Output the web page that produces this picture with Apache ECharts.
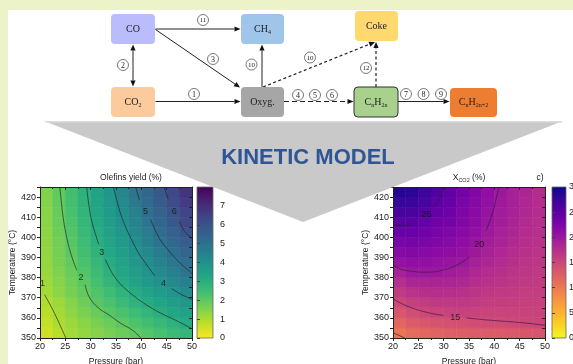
<!DOCTYPE html>
<html>
<head>
<meta charset="utf-8">
<script src="https://cdn.jsdelivr.net/npm/echarts@6/dist/echarts.min.js"></script>
<style>
  html, body { margin: 0; padding: 0; background: #fff; }
  #chart { width: 573px; height: 364px; }
</style>
</head>
<body>
<div id="chart"></div>
<script>
// ---- Data ---------------------------------------------------------------
// Cell centres of the response-surface grids (pressure in bar, temperature in °C)
const pressureCenters = [21.25, 23.75, 26.25, 28.75, 31.25, 33.75, 36.25, 38.75, 41.25, 43.75, 46.25, 48.75];
const temperatureCenters = [352.5, 357.5, 362.5, 367.5, 372.5, 377.5, 382.5, 387.5, 392.5, 397.5, 402.5, 407.5, 412.5, 417.5, 422.5];

// Olefins yield (%), one row per temperature, one column per pressure
const olefinsYield = [
  [0.60, 0.88, 1.11, 1.29, 1.46, 1.64, 1.81, 1.99, 2.18, 2.37, 2.56, 2.75],
  [0.72, 1.00, 1.21, 1.42, 1.63, 1.84, 2.05, 2.26, 2.47, 2.68, 2.89, 3.09],
  [0.85, 1.10, 1.35, 1.60, 1.85, 2.09, 2.32, 2.55, 2.78, 3.01, 3.22, 3.43],
  [0.95, 1.20, 1.49, 1.78, 2.07, 2.32, 2.58, 2.84, 3.09, 3.32, 3.56, 3.79],
  [1.10, 1.40, 1.67, 1.94, 2.23, 2.52, 2.82, 3.10, 3.36, 3.63, 3.89, 4.15],
  [1.17, 1.45, 1.74, 2.04, 2.39, 2.74, 3.08, 3.37, 3.66, 3.95, 4.23, 4.52],
  [1.24, 1.56, 1.87, 2.21, 2.57, 2.93, 3.26, 3.57, 3.88, 4.20, 4.53, 4.86],
  [1.29, 1.63, 1.95, 2.33, 2.72, 3.09, 3.41, 3.74, 4.08, 4.44, 4.79, 5.13],
  [1.33, 1.68, 2.04, 2.44, 2.85, 3.21, 3.55, 3.90, 4.28, 4.69, 5.08, 5.42],
  [1.36, 1.72, 2.13, 2.54, 2.96, 3.33, 3.70, 4.08, 4.51, 4.94, 5.31, 5.67],
  [1.39, 1.78, 2.20, 2.63, 3.05, 3.44, 3.82, 4.25, 4.70, 5.14, 5.54, 5.94],
  [1.42, 1.83, 2.28, 2.72, 3.15, 3.56, 3.96, 4.42, 4.90, 5.34, 5.78, 6.22],
  [1.45, 1.88, 2.34, 2.79, 3.23, 3.65, 4.09, 4.59, 5.08, 5.51, 5.94, 6.39],
  [1.48, 1.92, 2.38, 2.84, 3.29, 3.74, 4.22, 4.76, 5.24, 5.68, 6.13, 6.61],
  [1.50, 1.95, 2.42, 2.90, 3.36, 3.82, 4.34, 4.90, 5.37, 5.81, 6.29, 6.79]
];

// CO2 conversion (%), same layout
const co2Conversion = [
  [10.4, 11.3, 11.7, 12.1, 12.4, 12.6, 12.8, 12.9, 13.0, 13.2, 13.4, 13.6],
  [11.9, 12.8, 13.3, 13.7, 14.0, 14.2, 14.4, 14.5, 14.6, 14.8, 15.05, 15.2],
  [13.4, 14.3, 14.85, 15.2, 15.4, 15.5, 15.45, 15.35, 15.3, 15.3, 15.4, 15.5],
  [14.85, 15.7, 16.1, 16.35, 16.4, 16.4, 16.2, 16.0, 15.9, 15.8, 15.7, 15.7],
  [16.25, 17.1, 17.4, 17.5, 17.5, 17.3, 16.9, 16.6, 16.4, 16.2, 16.0, 16.0],
  [17.6, 18.5, 18.65, 18.65, 18.5, 18.3, 17.6, 17.2, 16.9, 16.6, 16.4, 16.2],
  [19.0, 19.85, 19.9, 19.8, 19.5, 19.1, 18.3, 17.8, 17.4, 17.0, 16.7, 16.5],
  [20.46, 20.9, 20.8, 20.6, 20.3, 19.9, 19.0, 18.4, 17.9, 17.4, 17.0, 16.8],
  [21.7, 21.95, 21.7, 21.35, 21.0, 20.5, 19.8, 18.9, 18.3, 17.8, 17.3, 17.0],
  [22.9, 23.0, 22.6, 22.1, 21.7, 21.0, 20.3, 19.3, 18.7, 18.1, 17.6, 17.2],
  [24.1, 24.0, 23.5, 22.8, 22.4, 21.6, 20.8, 19.7, 19.0, 18.4, 17.8, 17.4],
  [25.4, 25.1, 24.45, 23.55, 23.1, 22.1, 21.2, 20.1, 19.3, 18.6, 18.0, 17.6],
  [26.5, 26.3, 25.6, 24.3, 23.7, 22.5, 21.5, 20.4, 19.5, 18.8, 18.2, 17.7],
  [27.6, 27.4, 26.4, 25.0, 24.2, 22.9, 21.8, 20.7, 19.7, 18.9, 18.3, 17.8],
  [28.6, 28.4, 27.2, 25.7, 24.6, 23.2, 22.1, 20.9, 19.8, 19.0, 18.4, 17.9]
];

// Iso-lines of the olefins yield: segments of [pressure, temperature] (broken where the level is written)
const olefinsIso1 = [[[20.9, 371.5], [22.0, 366.5], [23.2, 360.5], [24.3, 354.5], [25.1, 350]]];
const olefinsIso2 = [[[23.9, 425], [24.2, 418], [24.5, 411], [25.1, 402], [25.8, 394.4], [26.6, 388], [27.3, 383.5]],
                     [[28.9, 376.5], [29.7, 370.4], [31.5, 365], [33.7, 361.3], [36.0, 357.2], [38.3, 353.8], [39.9, 350]]];
const olefinsIso3 = [[[29.2, 425], [29.6, 417], [30.1, 409.3], [30.9, 402], [31.6, 396.5]],
                     [[32.9, 389], [34.3, 382], [35.8, 377], [37.6, 372.8], [39.8, 368.5], [42.2, 364.6], [44.5, 361.5], [46.8, 358.8], [50, 354.6]]];
const olefinsIso4 = [[[34.5, 425], [35.2, 418], [36.0, 411], [37.1, 404], [38.3, 397.7], [39.5, 392], [40.9, 386.9], [42.6, 381]],
                     [[46.0, 374.5], [48.0, 371.5], [50, 369.2]]];
const olefinsIso5 = [[[38.9, 425], [39.6, 418.5]],
                     [[41.8, 409], [43.6, 399.3], [45.2, 394], [46.8, 389.4], [48.4, 385.5], [50, 382]]];
const olefinsIso6 = [[[44.5, 425], [45.3, 419]],
                     [[47.5, 408], [48.2, 404.3], [49.1, 401.5], [50, 399.3]]];
const olefinsIsoLabels = [['1', 20.5, 377], ['2', 28.1, 380], ['3', 32.2, 392.7], ['4', 44.4, 377], ['5', 40.8, 412.9], ['6', 46.5, 412.9]];

// Iso-lines of the CO2 conversion
const co2Iso10 = [[[20, 352.6], [21.2, 351.3], [22.3, 350]]];
const co2Iso15 = [[[20, 369.5], [21.8, 367], [23.8, 364.9], [25.8, 363.3], [27.8, 362.1], [30.0, 361.2]],
                  [[34.5, 360], [37.1, 359.3], [40.4, 358.6], [43.7, 358], [47.0, 357.2], [50, 356.3]]];
const co2Iso20 = [[[20, 386.1], [21.8, 384], [23.8, 383.1], [25.8, 382.7], [27.8, 382.8], [29.8, 383.7], [31.8, 385.3], [33.5, 387.5], [35.1, 390.2]],
                  [[38.4, 403.5], [39.1, 408], [39.7, 412.6], [40.3, 418.5], [40.9, 425]]];
const co2Iso25 = [[[20, 406], [22.5, 406], [24.2, 407.2]],
                  [[27.6, 414], [28.8, 417.5], [29.7, 421.5], [30.5, 425]]];
const co2IsoLabels = [['25', 26.6, 411.4], ['20', 37.0, 396.4], ['15', 32.3, 360.4]];

// Colour scales (low -> high)
const viridisLowToHigh = ['#fde725', '#bddf26', '#7ad151', '#44bf70', '#22a884', '#21918c', '#2a788e', '#355f8d', '#414487', '#482475', '#440154'];
const plasmaLowToHigh = ['#f0f921', '#fcce25', '#fca636', '#f2844b', '#e16462', '#cc4778', '#b12a90', '#8f0da4', '#6a00a8', '#41049d', '#0d0887'];
const olefinsRange = [0, 8];
const co2Range = [0, 30];

// Reaction network nodes and steps
const networkNodes = ['CO', 'CH4', 'Coke', 'CO2', 'Oxyg', 'CnH2n', 'CnH2n+2'];
const networkSteps = [
  ['CO', 'CH4', '11'], ['CO', 'Oxyg', '3'], ['CO', 'CO2', '2'], ['CO2', 'Oxyg', '1'],
  ['Oxyg', 'CH4', '10'], ['Oxyg', 'Coke', '10'], ['Oxyg', 'CnH2n', '4 5 6'],
  ['CnH2n', 'Coke', '12'], ['CnH2n', 'CnH2n+2', '7 8 9']
];

// ---- Drawing helpers -----------------------------------------------------
const SANS = 'Liberation Sans, Arial, sans-serif';
const SERIF = 'Liberation Serif, Times New Roman, serif';
const INK = '#222';

function gridCells(values) {
  const out = [];
  values.forEach((row, i) => row.forEach((v, j) => out.push([pressureCenters[j], temperatureCenters[i], v])));
  return out;
}

function renderCell(params, api) {
  const p = api.value(0), t = api.value(1);
  const a = api.coord([p - 1.25, t + 2.5]);
  const b = api.coord([p + 1.25, t - 2.5]);
  const c = api.visual('color');
  return {
    type: 'rect',
    shape: { x: a[0], y: a[1], width: b[0] - a[0], height: b[1] - a[1] },
    style: { fill: c, stroke: c, lineWidth: 0.6 }
  };
}

function colorbarRenderer(colors) {
  return function (params, api) {
    const lo = api.coord([0, api.value(0)]);
    const hi = api.coord([1, api.value(1)]);
    const stops = colors.map((c, i) => ({ offset: i / (colors.length - 1), color: c }));
    return {
      type: 'rect',
      shape: { x: lo[0], y: hi[1], width: hi[0] - lo[0], height: lo[1] - hi[1] },
      style: { fill: new echarts.graphic.LinearGradient(0, 1, 0, 0, stops), stroke: '#666', lineWidth: 0.8 }
    };
  };
}

function isoSeries(segments, axisIdx, color) {
  return segments.map(seg => ({
    type: 'line', xAxisIndex: axisIdx, yAxisIndex: axisIdx,
    data: seg, smooth: 0.4, showSymbol: false, symbol: 'none', silent: true, z: 4,
    lineStyle: { color: color, width: 0.9 }
  }));
}

function isoLabelSeries(labels, axisIdx) {
  return {
    type: 'scatter', xAxisIndex: axisIdx, yAxisIndex: axisIdx, z: 5, silent: true,
    symbolSize: 2, itemStyle: { color: 'rgba(0,0,0,0)' },
    data: labels.map(l => ({ name: l[0], value: [l[1], l[2]] })),
    label: { show: true, position: 'inside', formatter: '{b}', fontFamily: SANS, fontSize: 9, color: '#111' }
  };
}

const tickLabel = { fontFamily: SANS, fontSize: 9, color: INK };
const axisLineStyle = { show: true, onZero: false, lineStyle: { color: INK, width: 1 } };

function plotXAxes(gridIndex) {
  return [
    {
      gridIndex, type: 'value', min: 20, max: 50, interval: 5, position: 'bottom', z: 10,
      axisLine: axisLineStyle,
      axisTick: { show: true, length: 3, lineStyle: { color: INK } },
      minorTick: { show: true, splitNumber: 2, length: 2, lineStyle: { color: INK } },
      splitLine: { show: false },
      axisLabel: Object.assign({ margin: 4 }, tickLabel),
      name: 'Pressure (bar)', nameLocation: 'middle', nameGap: 19.5,
      nameTextStyle: { fontFamily: SANS, fontSize: 8.5, color: INK }
    },
    {
      gridIndex, type: 'value', min: 20, max: 50, interval: 5, position: 'top', z: 10,
      axisLine: axisLineStyle,
      axisTick: { show: true, inside: true, length: 3, lineStyle: { color: INK } },
      minorTick: { show: true, splitNumber: 2, length: 2, lineStyle: { color: INK } },
      splitLine: { show: false }, axisLabel: { show: false }
    }
  ];
}

function plotYAxes(gridIndex, nameGap) {
  return [
    {
      gridIndex, type: 'value', min: 350, max: 425, interval: 5, position: 'left', z: 10,
      axisLine: axisLineStyle,
      axisTick: { show: true, length: 3, lineStyle: { color: INK } },
      splitLine: { show: false },
      axisLabel: Object.assign({ margin: 4, formatter: v => (v % 10 === 0 && v < 425 ? String(v) : '') }, tickLabel),
      name: 'Temperature (°C)', nameLocation: 'middle', nameGap: nameGap,
      nameTextStyle: { fontFamily: SANS, fontSize: 8.5, color: INK }
    },
    {
      gridIndex, type: 'value', min: 350, max: 425, interval: 5, position: 'right', z: 10,
      axisLine: axisLineStyle,
      axisTick: { show: true, inside: true, length: 3, lineStyle: { color: INK } },
      splitLine: { show: false }, axisLabel: { show: false }
    }
  ];
}

function colorbarAxes(gridIndex, range, step, margin) {
  return {
    x: { gridIndex, type: 'value', min: 0, max: 1, show: false },
    y: {
      gridIndex, type: 'value', min: range[0], max: range[1], interval: step, position: 'right', z: 10,
      axisLine: { show: false },
      axisTick: { show: true, length: 3, lineStyle: { color: '#444' } },
      splitLine: { show: false },
      axisLabel: Object.assign({ margin: margin }, tickLabel)
    }
  };
}

// ---- Reaction network layout ---------------------------------------------
const nodeLayout = {
  'CO':      { x: 111, y: 14, w: 44, h: 30, fill: '#bbbcfb', label: 'CO' },
  'CH4':     { x: 241, y: 14, w: 43, h: 30, fill: '#9fc5ea', label: 'CH{s|4}' },
  'Coke':    { x: 355, y: 11, w: 43, h: 30, fill: '#ffd96e', label: 'Coke' },
  'CO2':     { x: 111, y: 87, w: 44, h: 30, fill: '#fbcb9d', label: 'CO{s|2}' },
  'Oxyg':    { x: 241, y: 87, w: 43, h: 30, fill: '#a6a6a6', label: 'Oxyg.' },
  'CnH2n':   { x: 354, y: 87, w: 44, h: 30, fill: '#a9d18e', label: 'C{s|n}H{s|2n}', stroke: '#333' },
  'CnH2n+2': { x: 450, y: 88, w: 47, h: 29, fill: '#ed7d31', label: 'C{s|n}H{s|2n+2}' }
};
const stepLayout = [
  { from: [155.5, 29], to: [240.5, 29], marks: [[203, 20]] },
  { from: [155.5, 29.5], to: [240, 87.5], marks: [[213, 59]] },
  { from: [133, 44.5], to: [133, 86.5], both: true, marks: [[123, 65]] },
  { from: [155.5, 101.5], to: [240.5, 101.5], marks: [[194, 94]] },
  { from: [262, 87], to: [262, 44.5], marks: [[251.5, 64.5]] },
  { from: [263, 87], to: [375, 42], dash: [3, 2.5], marks: [[310, 57.5]] },
  { from: [284, 101.5], to: [353.5, 101.5], dash: [5, 3], marks: [[298, 95], [315, 95], [332, 95]] },
  { from: [376, 87], to: [376, 42], dash: [3, 2.5], marks: [[366, 68]] },
  { from: [398, 101.5], to: [449.5, 101.5], marks: [[406, 94], [423.5, 94], [441, 94]] }
];

const subRich = {
  m: { fontFamily: SERIF, fontSize: 10, lineHeight: 12, fill: INK },
  s: { fontFamily: SERIF, fontSize: 6, lineHeight: 6, verticalAlign: 'bottom', fill: INK }
};

function nodeGraphic(name) {
  const b = nodeLayout[name];
  const text = b.label.replace(/(^|\})([^{}]+)(?=\{|$)/g, (m, pre, body) => pre + '{m|' + body + '}');
  return {
    type: 'group', z: 20, children: [
      { type: 'rect', shape: { x: b.x, y: b.y, width: b.w, height: b.h, r: 4 },
        style: { fill: b.fill, stroke: b.stroke || b.fill, lineWidth: b.stroke ? 1 : 0 } },
      { type: 'text', x: b.x + b.w / 2, y: b.y + b.h / 2,
        style: { text: text, rich: subRich, align: 'center', verticalAlign: 'middle' } }
    ]
  };
}

function headPoints(tip, tail) {
  const ang = Math.atan2(tip[1] - tail[1], tip[0] - tail[0]);
  const L = 6, W = 2.6;
  const bx = tip[0] - L * Math.cos(ang), by = tip[1] - L * Math.sin(ang);
  const nx = -Math.sin(ang) * W, ny = Math.cos(ang) * W;
  return { pts: [tip, [bx + nx, by + ny], [bx - nx, by - ny]], base: [bx, by] };
}

function stepGraphic(s, labels) {
  const head = headPoints(s.to, s.from);
  const parts = [];
  let start = s.from;
  if (s.both) {
    const h2 = headPoints(s.from, s.to);
    parts.push({ type: 'polygon', shape: { points: h2.pts }, style: { fill: '#111' } });
    start = h2.base;
  }
  parts.push({ type: 'line', shape: { x1: start[0], y1: start[1], x2: head.base[0], y2: head.base[1] },
    style: { stroke: '#222', lineWidth: s.dash ? 1.2 : 1, lineDash: s.dash || null } });
  parts.push({ type: 'polygon', shape: { points: head.pts }, style: { fill: '#111' } });
  s.marks.forEach((m, k) => {
    const num = labels[k];
    parts.push({ type: 'circle', shape: { cx: m[0], cy: m[1], r: 5.5 }, style: { fill: '#fff', stroke: '#555', lineWidth: 0.8 } });
    parts.push({ type: 'text', x: m[0], y: m[1] + 0.5,
      style: { text: num, fontFamily: SERIF, fontSize: num.length > 1 ? 7 : 8, fill: INK, align: 'center', verticalAlign: 'middle' } });
  });
  return { type: 'group', z: 20, children: parts };
}

const networkGraphics = [];
networkSteps.forEach((st, i) => networkGraphics.push(stepGraphic(stepLayout[i], st[2].split(' '))));
networkNodes.forEach(n => networkGraphics.push(nodeGraphic(n)));

// ---- Chart ---------------------------------------------------------------
const chart = echarts.init(document.getElementById('chart'), null, { renderer: 'canvas', width: 573, height: 364 });

const olefinsBar = colorbarAxes(1, olefinsRange, 1, 7);
const co2Bar = colorbarAxes(3, co2Range, 5, 3);
const leftX = plotXAxes(0), rightX = plotXAxes(2);
const leftY = plotYAxes(0, 19.5), rightY = plotYAxes(2, 19);
const ISO_DARK = 'rgba(35,35,35,0.75)';
const ISO_PURPLE = 'rgba(55,25,70,0.75)';

// axis index layout: 0/1 olefins map, 2 olefins colour bar, 3/4 CO2 map, 5 CO2 colour bar
const series = [
  { type: 'custom', xAxisIndex: 0, yAxisIndex: 0, data: gridCells(olefinsYield), renderItem: renderCell,
    encode: { x: 0, y: 1 }, clip: true, silent: true, z: 2 },
  { type: 'custom', xAxisIndex: 3, yAxisIndex: 3, data: gridCells(co2Conversion), renderItem: renderCell,
    encode: { x: 0, y: 1 }, clip: true, silent: true, z: 2 },
  { type: 'custom', xAxisIndex: 2, yAxisIndex: 2, data: [olefinsRange], renderItem: colorbarRenderer(viridisLowToHigh),
    encode: { y: [0, 1] }, silent: true, z: 2 },
  { type: 'custom', xAxisIndex: 5, yAxisIndex: 5, data: [co2Range], renderItem: colorbarRenderer(plasmaLowToHigh),
    encode: { y: [0, 1] }, silent: true, z: 2 }
];
[olefinsIso1, olefinsIso2, olefinsIso3, olefinsIso4, olefinsIso5, olefinsIso6]
  .forEach(iso => series.push(...isoSeries(iso, 0, ISO_DARK)));
series.push(isoLabelSeries(olefinsIsoLabels, 0));
[co2Iso10, co2Iso15, co2Iso20, co2Iso25]
  .forEach(iso => series.push(...isoSeries(iso, 3, ISO_PURPLE)));
series.push(isoLabelSeries(co2IsoLabels, 3));

const gridBase = { outerBoundsMode: 'none', containLabel: false };

const option = {
  animation: false,
  backgroundColor: '#ffffff',
  grid: [
    Object.assign({ left: 40, top: 187, width: 152, height: 151 }, gridBase),
    Object.assign({ left: 197, top: 187, width: 16, height: 151 }, gridBase),
    Object.assign({ left: 393, top: 187, width: 152, height: 151 }, gridBase),
    Object.assign({ left: 552, top: 187, width: 14, height: 151 }, gridBase)
  ],
  xAxis: [leftX[0], leftX[1], olefinsBar.x, rightX[0], rightX[1], co2Bar.x],
  yAxis: [leftY[0], leftY[1], olefinsBar.y, rightY[0], rightY[1], co2Bar.y],
  visualMap: [
    { type: 'continuous', show: false, min: olefinsRange[0], max: olefinsRange[1], dimension: 2, seriesIndex: 0,
      inRange: { color: viridisLowToHigh } },
    { type: 'continuous', show: false, min: co2Range[0], max: co2Range[1], dimension: 2, seriesIndex: 1,
      inRange: { color: plasmaLowToHigh } }
  ],
  series: series,
  graphic: [
    // page background bands
    { type: 'rect', z: 0, shape: { x: 0, y: 0, width: 573, height: 10 }, style: { fill: '#edf3c8' } },
    { type: 'rect', z: 0, shape: { x: 0, y: 0, width: 8, height: 364 }, style: { fill: '#edf3c8' } },
    // map titles
    { type: 'text', z: 20, x: 131, y: 178, style: { text: 'Olefins yield (%)', fontFamily: SANS, fontSize: 8.5, fill: INK, align: 'center', verticalAlign: 'middle' } },
    { type: 'text', z: 20, x: 469, y: 178, style: {
        text: '{t|X}{u|CO2}{t| (%)}', align: 'center', verticalAlign: 'middle',
        rich: { t: { fontFamily: SANS, fontSize: 8.5, fill: INK, lineHeight: 11 },
                u: { fontFamily: SANS, fontSize: 5.5, fill: INK, lineHeight: 5, verticalAlign: 'bottom' } } } },
    { type: 'text', z: 20, x: 540, y: 178, style: { text: 'c)', fontFamily: SANS, fontSize: 8.5, fill: INK, align: 'center', verticalAlign: 'middle' } },
    // funnel from the network to the model results
    { type: 'polygon', z: 100, shape: { points: [[44, 121], [563, 121], [303, 222]] }, style: { fill: '#c9c9c9' } },
    { type: 'line', z: 101, shape: { x1: 45, y1: 121.8, x2: 562, y2: 121.8 }, style: { stroke: '#dcdcdc', lineWidth: 1.5 } },
    { type: 'text', z: 102, x: 308, y: 158, style: { text: 'KINETIC MODEL', fontFamily: SANS, fontWeight: 'bold', fontSize: 22, fill: '#2f5597', align: 'center', verticalAlign: 'middle' } }
  ].concat(networkGraphics)
};

chart.setOption(option);
</script>
</body>
</html>
